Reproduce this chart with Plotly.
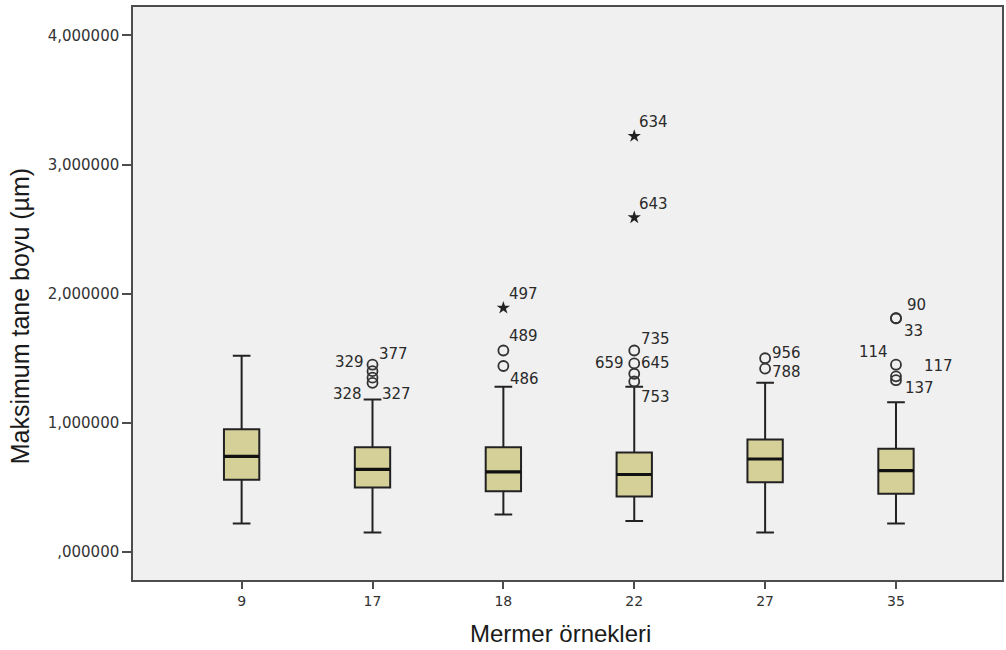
import plotly.graph_objects as go

# ---- data ----
groups = ["9", "17", "18", "22", "27", "35"]
lower_fence = [0.22, 0.15, 0.29, 0.24, 0.15, 0.22]
q1 = [0.56, 0.50, 0.47, 0.43, 0.54, 0.45]
median = [0.74, 0.64, 0.62, 0.60, 0.72, 0.63]
q3 = [0.95, 0.81, 0.81, 0.77, 0.87, 0.80]
upper_fence = [1.52, 1.18, 1.28, 1.28, 1.31, 1.16]

# outliers (circle = mild, star = extreme)
circle_group = ["17", "17", "17", "17", "18", "18", "22", "22", "22", "22", "27", "27", "35", "35", "35", "35", "35"]
circle_value = [1.45, 1.40, 1.35, 1.31, 1.56, 1.44, 1.56, 1.46, 1.38, 1.32, 1.50, 1.42, 1.81, 1.81, 1.45, 1.36, 1.33]
circle_label = ["329", "377", "328", "327", "489", "486", "735", "659", "645", "753", "956", "788", "90", "33", "114", "117", "137"]

star_group = ["18", "22", "22"]
star_value = [1.89, 3.22, 2.59]
star_label = ["497", "634", "643"]

y_ticks = [0, 1, 2, 3, 4]
y_tick_text = [",000000", "1,000000", "2,000000", "3,000000", "4,000000"]

x_title = "Mermer örnekleri"
y_title = "Maksimum tane boyu (µm)"

# label placement (pixel offsets: dx, dy downwards, anchor)
label_style = {
    "329": (-7, -3, "right"), "377": (4, -17, "left"), "328": (-9, 16, "right"), "327": (7, 11, "left"),
    "489": (4, -15, "left"), "486": (5, 13, "left"), "497": (4, -14, "left"),
    "634": (3, -14, "left"), "643": (3, -14, "left"),
    "735": (5, -12, "left"), "659": (-8, 0, "right"), "645": (5, -11, "left"), "753": (5, 15, "left"),
    "956": (5, -5, "left"), "788": (5, 3, "left"),
    "90": (9, -13, "left"), "33": (6, 13, "left"), "114": (-6, -13, "right"), "117": (26, -10, "left"),
    "137": (7, 8, "left"),
}

label_font = dict(family="DejaVu Sans, Verdana", size=15, color="#2a2a2a")

fig = go.Figure()
fig.add_trace(go.Box(
    x=groups, q1=q1, median=median, q3=q3,
    lowerfence=lower_fence, upperfence=upper_fence,
    fillcolor="#d5cf98", line=dict(color="#222222", width=2),
    width=0.27, whiskerwidth=0.5, boxpoints=False, showlegend=False, hoverinfo="skip",
))
# thicker median line (degenerate box drawn at the median)
fig.add_trace(go.Box(
    x=groups, q1=median, median=median, q3=median,
    lowerfence=median, upperfence=median,
    fillcolor="rgba(0,0,0,0)", line=dict(color="#111111", width=3.2),
    width=0.27, whiskerwidth=0, boxpoints=False, showlegend=False, hoverinfo="skip",
))
fig.add_trace(go.Scatter(
    x=circle_group, y=circle_value, mode="markers",
    marker=dict(symbol="circle-open", size=10, color="#333333", line=dict(width=1.8)),
    showlegend=False,
))
fig.add_trace(go.Scatter(
    x=star_group, y=star_value, mode="markers",
    marker=dict(symbol="star", size=10, color="#222222", line=dict(width=0)),
    showlegend=False,
))

for g, v, lab in list(zip(circle_group, circle_value, circle_label)) + list(zip(star_group, star_value, star_label)):
    dx, dy, anc = label_style[lab]
    fig.add_annotation(
        x=groups.index(g), y=v, text=lab, showarrow=False, xanchor=anc, yanchor="middle",
        xshift=dx, yshift=-dy, font=label_font,
    )

# axis titles
fig.add_annotation(
    xref="paper", yref="paper", x=-0.1297, y=0.4607, text=y_title, textangle=-90,
    showarrow=False, xanchor="center", yanchor="middle",
    font=dict(family="Liberation Sans, Arial", size=25, color="#1a1a1a"),
)
fig.add_annotation(
    xref="paper", yref="paper", x=0.4914, y=-0.0925, text=x_title,
    showarrow=False, xanchor="center", yanchor="middle",
    font=dict(family="Liberation Sans, Arial", size=24, color="#1a1a1a"),
)

fig.update_layout(
    width=1006, height=650,
    margin=dict(l=133, r=2, t=7, b=70),
    paper_bgcolor="white", plot_bgcolor="#f0f0f0",
    font=dict(family="Liberation Sans, Arial", color="#333333"),
    boxmode="overlay",
)
fig.update_xaxes(
    type="category", categoryorder="array", categoryarray=groups,
    range=[-0.83, 5.81], showgrid=False, zeroline=False,
    showline=True, mirror=True, linecolor="#4d4d4d", linewidth=1.5,
    ticks="outside", ticklen=7, tickcolor="#4d4d4d", tickwidth=1.5,
    tickfont=dict(family="DejaVu Sans, Verdana", size=14, color="#333333"),
)
fig.update_yaxes(
    range=[-0.217, 4.22], showgrid=False, zeroline=False,
    tickmode="array", tickvals=y_ticks, ticktext=y_tick_text,
    showline=True, mirror=True, linecolor="#4d4d4d", linewidth=1.5,
    ticks="outside", ticklen=9, tickcolor="#4d4d4d", tickwidth=1.5,
    tickfont=dict(family="DejaVu Sans, Verdana", size=15, color="#333333"),
)

fig.write_html("out.html", config={"displayModeBar": False},
               post_script="document.body.style.margin='0';")
